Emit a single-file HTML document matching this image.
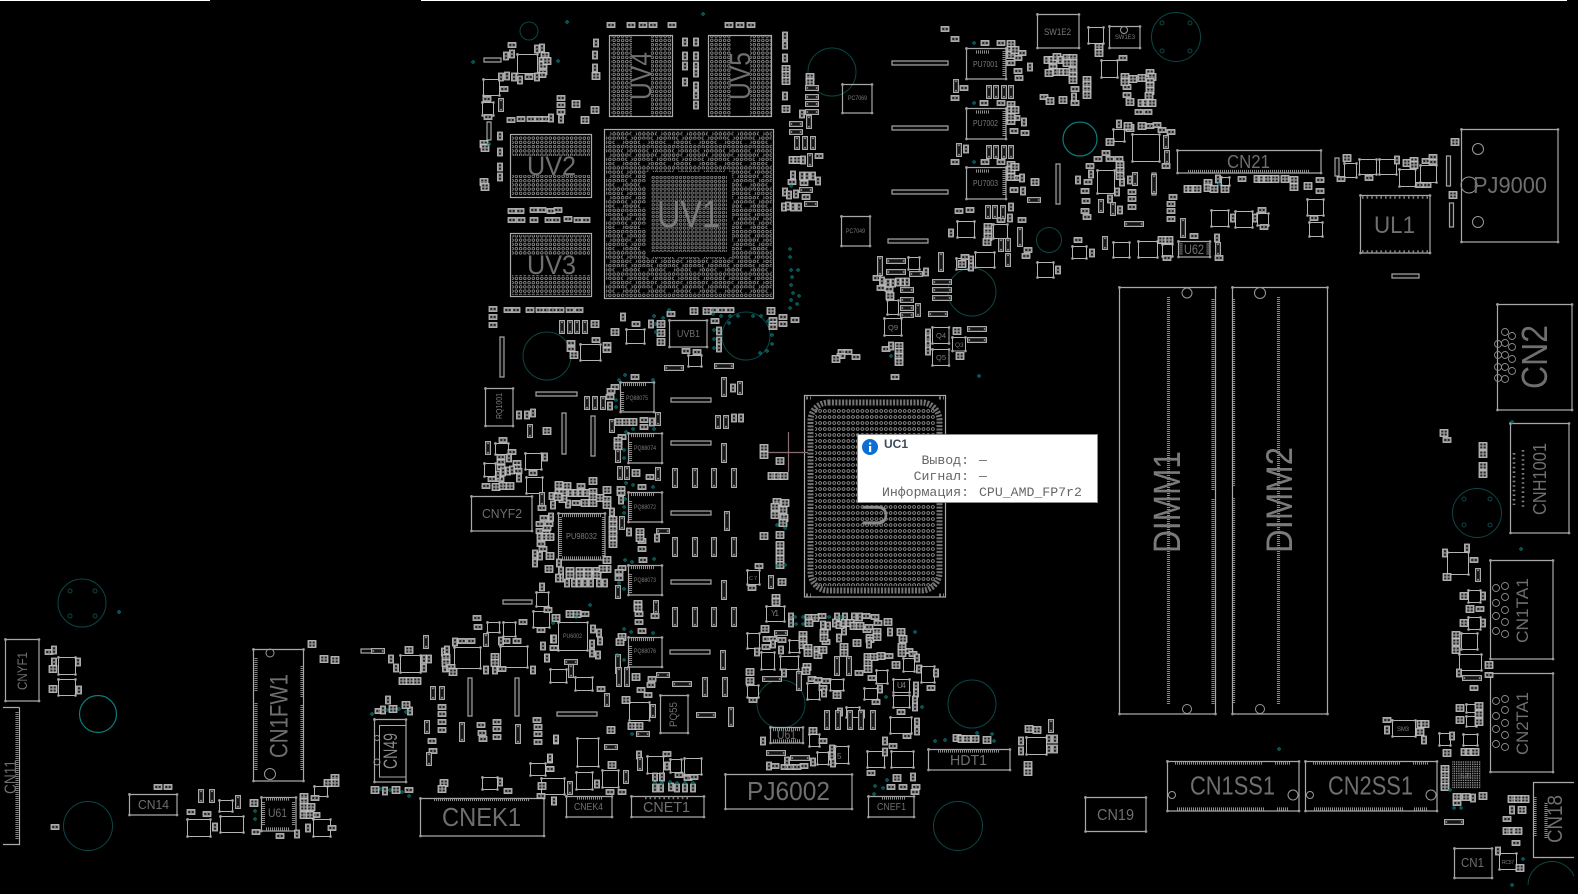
<!DOCTYPE html>
<html lang="ru"><head><meta charset="utf-8"><title>Boardview</title>
<style>
html,body{margin:0;padding:0;background:#000;overflow:hidden}
svg{display:block;position:absolute;left:0;top:0}
polyline{fill:none;stroke:none}
.h{marker:url(#h)}.v{marker:url(#v)}.q{marker:url(#q)}.m{marker:url(#m)}.w{marker:url(#w)}.n{marker:url(#n)}.x{marker:url(#x)}.t{marker:url(#t)}.g{marker:url(#g)}
.c{fill:none;stroke:#b4b4b4;stroke-width:1;marker:url(#s)}
.b{fill:none;stroke:#a8a8a8;stroke-width:1.2;marker:url(#s)}
.l{fill:#0c0c0c;stroke:#a4a4a4;stroke-width:1.2}
.p{fill:none;stroke:#9c9c9c;stroke-width:3.2;stroke-dasharray:.9 1.1}
.k{fill:none;stroke:#7c7c7c;stroke-width:2.6;stroke-dasharray:1.6 3}
.o{fill:none;stroke:#0c4646;stroke-width:1}
.r{fill:none;stroke:#0b7c7c;stroke-width:1.2}
.u{fill:none;stroke:#999;stroke-width:1}
text{font-family:"Liberation Sans",sans-serif}
.L{fill:#6f6f6f}
.S{fill:#7a7a7a}
.M{font-family:"Liberation Mono","DejaVu Sans Mono",monospace;font-size:13.2px;fill:#666}
</style></head><body>
<svg width="1578" height="894" viewBox="0 0 1578 894" xmlns="http://www.w3.org/2000/svg">
<defs>
<pattern id="d" width="4.25" height="4.25" patternUnits="userSpaceOnUse"><circle cx="2.1" cy="2.1" r="1.3" fill="none" stroke="#a0a0a0" stroke-width=".75"/></pattern>
<pattern id="d2" width="3.9" height="3.9" patternUnits="userSpaceOnUse"><circle cx="1.95" cy="1.95" r="1.2" fill="none" stroke="#8c8c8c" stroke-width=".8"/></pattern>
<pattern id="e" width="4.7" height="6" patternUnits="userSpaceOnUse"><circle cx="2.3" cy="3" r="1.4" fill="none" stroke="#a0a0a0" stroke-width=".8"/></pattern>
<pattern id="f" width="2.3" height="2.3" patternUnits="userSpaceOnUse"><rect width="1.4" height="1.4" fill="#8a8a8a"/></pattern>
<pattern id="z" x="606" y="131" width="25.5" height="21.25" patternUnits="userSpaceOnUse"><rect x="0" y="0" width="4.25" height="4.25"/><rect x="8.5" y="8.5" width="8.5" height="4.25"/><rect x="17" y="17" width="4.25" height="4.25"/><rect x="21.25" y="4.25" width="4.25" height="4.25"/></pattern>
<marker id="h" markerUnits="userSpaceOnUse" markerWidth="9" markerHeight="6" refX="4.5" refY="3"><rect x=".5" y=".5" width="8" height="5" fill="#8f8f8f" stroke="#c4c4c4" stroke-width=".8"/><rect x="1.8" y="2" width="2" height="2" fill="#222"/><rect x="5.2" y="2" width="2" height="2" fill="#222"/></marker>
<marker id="v" markerUnits="userSpaceOnUse" markerWidth="6" markerHeight="9" refX="3" refY="4.5"><rect x=".5" y=".5" width="5" height="8" fill="#8f8f8f" stroke="#c4c4c4" stroke-width=".8"/><rect x="2" y="1.8" width="2" height="2" fill="#222"/><rect x="2" y="5.2" width="2" height="2" fill="#222"/></marker>
<marker id="q" markerUnits="userSpaceOnUse" markerWidth="9" markerHeight="8" refX="4.5" refY="4"><rect x=".5" y=".5" width="8" height="7" fill="#9a9a9a" stroke="#c8c8c8" stroke-width=".8"/><rect x="1.8" y="1.6" width="2" height="1.8" fill="#222"/><rect x="5.2" y="1.6" width="2" height="1.8" fill="#222"/><rect x="1.8" y="4.6" width="2" height="1.8" fill="#222"/><rect x="5.2" y="4.6" width="2" height="1.8" fill="#222"/></marker>
<marker id="m" markerUnits="userSpaceOnUse" markerWidth="6" markerHeight="14" refX="3" refY="7"><rect x=".6" y=".6" width="4.8" height="12.8" fill="#151515" stroke="#aaa" stroke-width="1.2"/><circle cx="3" cy="2.4" r=".9" fill="#999"/><circle cx="3" cy="11.6" r=".9" fill="#999"/></marker>
<marker id="w" markerUnits="userSpaceOnUse" markerWidth="6" markerHeight="20" refX="3" refY="10"><rect x=".6" y=".6" width="4.8" height="18.8" fill="#151515" stroke="#aaa" stroke-width="1.2"/><circle cx="3" cy="2.4" r=".9" fill="#999"/><circle cx="3" cy="17.6" r=".9" fill="#999"/></marker>
<marker id="n" markerUnits="userSpaceOnUse" markerWidth="14" markerHeight="6" refX="7" refY="3"><rect x=".6" y=".6" width="12.8" height="4.8" fill="#151515" stroke="#aaa" stroke-width="1.2"/><circle cx="2.4" cy="3" r=".9" fill="#999"/><circle cx="11.6" cy="3" r=".9" fill="#999"/></marker>
<marker id="x" markerUnits="userSpaceOnUse" markerWidth="20" markerHeight="6" refX="10" refY="3"><rect x=".6" y=".6" width="18.8" height="4.8" fill="#151515" stroke="#aaa" stroke-width="1.2"/><circle cx="2.4" cy="3" r=".9" fill="#999"/><circle cx="17.6" cy="3" r=".9" fill="#999"/></marker>
<marker id="t" markerUnits="userSpaceOnUse" markerWidth="4" markerHeight="4" refX="2" refY="2"><circle cx="2" cy="2" r="1.2" fill="none" stroke="#0a8e8e" stroke-width=".9"/></marker>
<marker id="s" markerUnits="userSpaceOnUse" markerWidth="4" markerHeight="4" refX="2" refY="2"><circle cx="2" cy="2" r="1" fill="none" stroke="#999" stroke-width=".7"/></marker>
<marker id="g" markerUnits="userSpaceOnUse" markerWidth="9" markerHeight="9" refX="4.5" refY="4.5"><circle cx="4.5" cy="4.5" r="3.5" fill="none" stroke="#8c8c8c" stroke-width=".9"/></marker>
</defs>
<rect width="1578" height="894" fill="#000"/>
<path d="M0 .5H210M421 .5H1567" stroke="#fff" stroke-width="1"/>

<!-- mounting holes -->
<g class="o">
<circle cx="529" cy="31" r="9"/><circle cx="82" cy="603" r="24"/><circle cx="88" cy="826" r="24.5"/><circle cx="832" cy="72" r="24"/><circle cx="1176" cy="37" r="24.5"/><circle cx="1049" cy="240" r="12.5"/><circle cx="972" cy="292" r="24"/><circle cx="547" cy="356" r="24"/><circle cx="746" cy="336" r="24"/><circle cx="781" cy="704" r="24"/><circle cx="972" cy="704" r="24"/><circle cx="958" cy="826" r="24.5"/><circle cx="1477" cy="513" r="24.5"/><path d="M1528 885A24 24 0 0 1 1574 876"/>
<circle cx="70" cy="591" r="2"/><circle cx="95" cy="591" r="2"/><circle cx="70" cy="616" r="2"/><circle cx="95" cy="616" r="2"/>
<circle cx="1162" cy="23" r="2"/><circle cx="1190" cy="23" r="2"/><circle cx="1162" cy="51" r="2"/><circle cx="1190" cy="51" r="2"/>
<circle cx="1464" cy="499" r="2"/><circle cx="1490" cy="499" r="2"/><circle cx="1464" cy="525" r="2"/><circle cx="1490" cy="525" r="2"/>
</g>
<circle class="r" cx="98" cy="714" r="18.5"/><circle class="r" cx="1080" cy="139" r="17"/>

<!-- BGAs -->
<g stroke="#aaa" stroke-width="1.2" fill="none">
<rect x="604.5" y="129.5" width="169" height="169"/><rect x="609.5" y="35.5" width="63" height="81"/><rect x="708.5" y="35.5" width="63" height="81"/><rect x="510.5" y="134.5" width="81" height="63"/><rect x="510.5" y="233.5" width="81" height="63"/><rect x="804.5" y="395.5" width="141" height="201.5"/>
</g>
<rect x="606" y="131" width="166" height="166" fill="url(#d)"/><rect x="606" y="131" width="166" height="166" fill="url(#z)"/><rect x="646" y="172" width="86" height="85" fill="#000"/><rect x="651" y="176" width="76" height="76" fill="url(#d2)"/>
<g fill="url(#d)"><rect x="611" y="36" width="21" height="80"/><rect x="651" y="36" width="21" height="80"/><rect x="710" y="36" width="21" height="80"/><rect x="750" y="36" width="21" height="80"/><rect x="512" y="136" width="78" height="20"/><rect x="512" y="175" width="78" height="21"/><rect x="512" y="235" width="78" height="20"/><rect x="512" y="275" width="78" height="20"/></g>
<rect x="815" y="408" width="120" height="178" fill="url(#e)"/>
<rect x="810.5" y="402.5" width="129" height="188" rx="18" fill="none" stroke="#747474" stroke-width="6" stroke-dasharray="2 1.4"/>
<path d="M806 398h5M806 595h5M939 398h5M939 595h5" stroke="#777" stroke-width="3" stroke-dasharray="2 2"/>
<rect x="1452" y="761" width="29" height="28" fill="url(#f)"/>

<!-- big outlines -->
<path class="b" d="M1119.500 287.500h96v426.500h-96zM1232.500 287.500h95v426.500h-95zM1497.500 304.500h74.500v105.500h-74.500zM1510.500 423.500h58.500v109.500h-58.500zM1490.500 560.500h62.500v98.500h-62.500zM1490.500 673.500h62.500v98.500h-62.500zM1454.500 848.500h37.500v29.500h-37.500zM1167.500 761.500h131.500v49.500h-131.500zM1305.500 761.500h131.500v49.500h-131.500zM1085.500 797.500h60.500v34h-60.500zM5.500 639.500h33.500v61.500h-33.500zM129.500 794.500h47.500v20.500h-47.500zM253.500 649.500h50v131.500h-50zM261.500 797.500h34.500v33.500h-34.500zM374.500 719.500h31.500v62.500h-31.500zM420.500 798.500h123.500v37.500h-123.500zM566.500 796.500h45.500v20.500h-45.500zM631.500 796.500h72.500v20.500h-72.500zM725.500 774.500h126.500v34.500h-126.500zM868.500 796.500h45.500v20.500h-45.500zM928.500 749.500h81.500v20.500h-81.500zM770.500 727.500h32.500v15.500h-32.500zM660.500 695.500h27.500v37.500h-27.500zM620.500 382.500h33.500v29.500h-33.500zM628.500 433.500h33.500v29.500h-33.500zM628.500 492.500h33.500v29.500h-33.500zM628.500 565.500h33.500v29.500h-33.500zM628.500 637.500h33.500v29.500h-33.500zM558.500 513.500h46.500v46.500h-46.500zM471.500 496.500h60.500v34.500h-60.500zM669.500 320.500h37.500v26.500h-37.500zM485.500 388.500h27.500v37.500h-27.500zM1037.500 14.500h41.500v33.500h-41.500zM1109.500 26.500h30.500v21.500h-30.500zM966.500 48.500h39.500v30.500h-39.500zM966.500 108.500h39.500v30.500h-39.500zM966.500 167.500h39.500v31.500h-39.500zM842.500 84.500h29.500v28.500h-29.500zM841.500 216.500h28.500v29.500h-28.500zM1177.500 150.500h143.500v22.500h-143.500zM1178.500 241.500h31.500v15.500h-31.500zM1461.500 129.500h96.500v112.500h-96.500zM1360.500 195.500h69.500v57.500h-69.500z"/>
<path d="M19.500 707.500H3M19.500 707.500V844.500H3" fill="none" stroke="#aaa" stroke-width="1.2"/>
<path d="M1574 782.500H1533.500V857.500H1574" fill="none" stroke="#aaa" stroke-width="1.2"/>
<rect x="379.500" y="725.500" width="26.500" height="51.500" fill="none" stroke="#aaa"/>

<!-- pins -->
<path class="p" d="M1168.500 297V704M1213 299V490M1213 499V704M1233.500 299V487M1233.500 498V704M1278.500 297V704M1188 171.500H1309M1175 763H1263M1275 763H1290M1177 809H1264M1277 809H1289M1313 763H1401M1413 763H1428M1314 809H1403M1414 809H1427M1535 797V837M1546 803V839M434 799.500H530M17 712V840M256 658V691M256 703V770M302 666V697M302 705V770M938 751H999M577 798H602M882 798H906M266 799H290M266 829H290M263.500 802V826M293.500 802V826M1181 243.500V255M1208 243.500V255M773 729.500H800M773 741H800M562 515.500H601M562 558H601M560.500 517V556M603.500 517V556M976 52H990M976 112H990M976 171H990M1004 51V76M1004 111V136M1004 170V196M623 384.500H646M631 435.500H654M631 494.500H654M631 567.500H654M631 639.500H654M622.500 392V411M630.500 442V462M630.500 501V521M630.500 574V594M630.500 646V666"/>
<path class="k" d="M1362 197.500H1429M1362 251.500H1429M1514 453V505M1523 450V507M645 798H690"/>
<polyline class="g" points="1498,344 1498,355 1498,367 1498,378 1505,332 1505,343 1505,355 1505,367 1505,379 1512,336 1512,347 1512,359 1512,371 1496,588 1496,603 1496,616 1496,631 1505,586 1505,597 1505,610 1505,622 1505,634 1496,701 1496,716 1496,729 1496,744 1505,699 1505,710 1505,723 1505,735 1505,747"/>

<!-- round holes -->
<g class="u">
<circle cx="1187" cy="293" r="5"/><circle cx="1187" cy="709" r="4.5"/><circle cx="1260" cy="293" r="5.500"/><circle cx="1260" cy="709" r="4.500"/><circle cx="270" cy="653" r="4"/><circle cx="270" cy="774" r="5.500"/><circle cx="1478" cy="149" r="5.500"/><circle cx="1469" cy="185" r="8"/><circle cx="1478" cy="222" r="5.500"/><circle cx="1172" cy="795" r="3.500"/><circle cx="1293" cy="795" r="5"/><circle cx="1310" cy="795" r="3.500"/><circle cx="1431" cy="795" r="5"/><circle cx="1124" cy="30" r="3.500"/><circle cx="377" cy="738" r="2.500"/><circle cx="377" cy="762" r="3"/>
</g>

<!-- small packages -->
<path class="c" d="M517.500 54.500h20v19h-20zM483.500 79.500h16v16h-16zM482.500 102.500h11v13h-11zM580.500 344.500h20v16h-20zM626.500 329.500h18v14h-18zM688.500 355.500h13v11h-13zM495.500 443.500h13v11h-13zM525.500 453.500h16v16h-16zM484.500 463.500h11v13h-11zM526.500 477.500h16v16h-16zM747.500 570.500h12v14h-12zM536.500 592.500h12v14h-12zM558.500 622.500h29v28h-29zM550.500 669.500h16v13h-16zM575.500 677.500h17v13h-17zM577.500 738.500h21v28h-21zM576.500 772.500h16v17h-16zM602.500 770.500h16v17h-16zM541.500 778.500h23v16h-23zM629.500 702.500h20v18h-20zM747.500 633.500h12v15h-12zM761.500 652.500h13v17h-13zM780.500 656.500h18v13h-18zM789.500 640.500h10v12h-10zM766.500 606.500h18v15h-18zM747.500 685.500h11v12h-11zM807.500 683.500h12v16h-12zM830.500 679.500h13v11h-13zM876.500 670.500h11v13h-11zM864.500 688.500h13v11h-13zM893.500 679.500h16v13h-16zM893.500 695.500h16v12h-16zM846.500 707.500h13v10h-13zM809.500 734.500h10v12h-10zM835.500 746.500h13v17h-13zM817.500 752.500h11v12h-11zM903.500 658.500h11v13h-11zM921.500 666.500h13v16h-13zM890.500 717.500h21v16h-21zM867.500 751.500h17v16h-17zM891.500 751.500h22v16h-22zM1026.500 737.500h20v17h-20zM647.500 756.500h16v17h-16zM670.500 759.500h11v13h-11zM684.500 758.500h17v16h-17zM58.500 657.500h17v17h-17zM58.500 679.500h17v16h-17zM219.500 800.500h13v11h-13zM187.500 819.500h23v17h-23zM220.500 816.500h23v16h-23zM314.500 786.500h13v10h-13zM313.500 819.500h17v17h-17zM400.500 655.500h20v17h-20zM454.500 647.500h26v21h-26zM487.500 622.500h12v10h-12zM503.500 622.500h12v14h-12zM533.500 611.500h16v16h-16zM500.500 646.500h27v21h-27zM482.500 777.500h15v12h-15zM530.500 763.500h15v12h-15zM1088.500 27.500h15v16h-15zM1101.500 60.500h16v17h-16zM957.500 221.500h17v16h-17zM993.500 224.500h14v14h-14zM975.500 252.500h19v15h-19zM956.500 258.500h12v11h-12zM1037.500 262.500h16v15h-16zM908.500 257.500h11v12h-11zM1132.500 134.500h27v27h-27zM1113.500 129.500h11v12h-11zM1097.500 170.500h17v23h-17zM1072.500 246.500h14v12h-14zM1113.500 242.500h16v15h-16zM1138.500 241.500h19v16h-19zM1162.500 244.500h10v12h-10zM1221.500 177.500h8v8h-8zM1211.500 210.500h17v16h-17zM1235.500 211.500h17v16h-17zM1257.500 213.500h11v12h-11zM1344.500 163.500h12v14h-12zM1359.500 159.500h17v15h-17zM1379.500 159.500h17v15h-17zM1399.500 169.500h16v17h-16zM1420.500 165.500h16v17h-16zM1307.500 199.500h16v16h-16zM1309.500 222.500h13v14h-13zM1447.500 552.500h21v22h-21zM1468.500 590.500h12v12h-12zM1468.500 617.500h12v12h-12zM1461.500 633.500h16v16h-16zM1459.500 654.500h22v16h-22zM1466.500 704.500h10v8h-10zM1466.500 716.500h10v10h-10zM1392.500 720.500h23v16h-23zM1439.500 733.500h11v12h-11zM1463.500 734.500h14v11h-14zM1499.500 853.500h17v16h-17zM884.500 318.500h17v17h-17zM932.500 327.500h16.500v16h-16.500zM932.500 349.500h16.500v16h-16.500zM952.500 337.500h13v13.500h-13zM887.500 300.500h11v14h-11z"/>

<!-- long parts -->
<path class="l" d="M892 61h56v4h-56zM892 126h56v4h-56zM892 190h56v4h-56zM888 239h40v4h-40zM536 392h41v4h-41zM671 398h40v4h-40zM671 441h40v4h-40zM671 511h40v4h-40zM671 580h40v4h-40zM670 650h40v4h-40zM503 600h29v4h-29zM557 712h40v4h-40zM562 413h4v41h-4zM591 416h4v40h-4zM500 337h4v40h-4zM468 678h4v38h-4zM515 678h4v38h-4zM1056 164h4v40h-4zM1152 173h4v22h-4zM1392 274h27v4h-27zM487 122h4v18h-4zM484 58h17v4h-17zM1446.500 156h4v30h-4zM1449.500 203h4v24h-4zM1335 158h4v18h-4zM361 649h17v4h-17z"/>

<polyline class="h" points="611,25 631,25 643,25 653,25 672,25 729,25 740,25 751,25 561,98 561,105 561,112 511,120 521,119 531,119 539,119 546,119 512,45 504,89 487,99 488,117 529,77 543,72 542,75 512,211 520,211 534,210 542,210 551,211 558,210 512,220 521,220 534,220 549,220 556,220 568,219 578,220 586,220 819,156 792,182 804,183 806,197 493,309 493,317 493,325 508,310 516,310 530,310 540,310 547,310 553,310 560,310 570,310 579,310 571,343 571,349 596,340 607,345 607,350 636,324 671,314 713,310 722,310 730,310 715,321 686,351 697,352 783,317 783,324 773,320 773,324 773,327 795,320 635,377 615,387 611,391 610,397 644,420 644,427 622,437 650,477 642,487 621,489 621,493 642,541 642,549 643,560 622,568 619,572 619,578 759,566 752,588 503,440 501,457 512,452 501,462 501,467 517,463 517,467 518,471 533,473 492,479 500,479 486,486 581,486 576,503 542,508 544,518 540,524 540,531 549,524 547,528 546,533 541,544 543,549 601,689 548,610 585,614 639,614 639,622 655,616 642,631 652,679 651,685 648,695 641,690 610,792 622,792 550,769 554,648 767,639 773,639 782,640 766,647 822,616 866,616 875,617 867,630 878,623 869,627 826,642 870,637 870,640 909,651 913,654 889,656 859,673 812,679 818,680 826,681 823,688 753,700 872,678 876,702 901,712 931,688 823,741 804,766 785,767 791,767 797,767 775,766 907,736 893,746 871,773 891,787 903,787 916,787 915,792 667,754 679,775 688,778 694,777 49,652 158,787 168,787 191,812 207,814 256,832 280,836 55,827 315,798 316,815 332,828 379,711 409,790 462,641 471,641 477,618 478,627 523,622 506,641 517,641 541,630 554,648 502,669 442,707 442,714 442,722 442,730 481,725 482,733 483,739 497,722 497,729 497,737 537,720 538,727 538,734 538,742 432,741 433,751 508,791 550,769 541,796 945,29 955,39 985,43 1001,43 1022,53 1018,58 1011,63 1018,71 1019,78 964,88 955,98 984,103 1001,103 1016,118 1011,122 1014,131 1025,133 955,162 985,162 1001,162 1017,178 1014,190 959,211 970,210 1001,220 1022,220 1028,250 1026,256 965,257 877,278 881,288 889,289 886,349 895,377 842,352 848,352 841,356 856,357 1123,58 1075,89 1075,103 1044,97 1127,87 1127,95 1139,112 1148,112 1150,126 1157,125 1162,130 1171,132 1166,166 1106,153 1098,159 1110,159 1119,159 1090,166 1088,182 1085,191 1086,201 1085,211 1087,217 1132,192 1132,199 1132,207 1173,197 1171,204 1171,211 1171,219 1194,236 1078,240 1167,258 1219,258 1242,179 1262,210 1264,227 1320,180 1320,191 1314,218 1341,179 1369,178 1426,161 1433,157 1433,162 1420,185 1427,185 1447,440 1474,560 1480,609 1489,675 1474,688 1387,720 1457,803 1507,819 1516,843"/>
<polyline class="v" points="596,43 595,55 595,68 685,42 696,42 685,56 696,56 685,66 696,66 696,73 685,82 696,86 696,95 696,105 785,36 785,45 785,58 785,96 551,118 561,119 506,56 512,54 537,49 542,48 537,77 520,80 514,77 507,76 501,77 500,136 500,152 500,167 500,177 623,317 651,324 719,331 719,341 719,348 519,415 527,415 533,413 652,422 610,406 733,388 734,418 741,418 509,458 545,457 519,478 498,475 503,472 508,471 512,470 568,504 553,505 551,517 535,554 540,556 535,563 559,563 561,571 561,578 558,578 567,583 574,583 579,583 585,583 591,583 599,583 605,583 612,512 542,587 621,500 629,532 657,538 556,740 597,784 554,801 550,759 593,629 599,633 600,641 592,644 592,653 598,655 553,639 543,646 547,658 757,652 773,644 781,650 791,617 791,623 823,625 828,626 837,617 845,617 854,617 860,617 835,623 839,638 844,631 890,632 869,644 917,658 919,669 784,673 936,673 824,693 880,689 840,712 862,714 763,741 916,686 916,693 915,700 915,707 885,741 885,752 832,749 832,756 833,763 813,762 787,761 769,766 917,722 917,731 913,777 1021,741 1021,751 1049,739 1049,749 1055,739 1055,749 639,755 667,766 655,777 662,777 655,788 661,788 671,787 677,788 685,788 693,788 54,650 54,662 78,662 79,690 215,827 297,834 308,828 388,700 383,710 410,711 385,791 391,659 396,668 424,659 429,659 424,668 444,652 447,650 455,642 501,641 547,658 554,639 486,670 495,670 533,670 445,668 500,782 550,758 554,801 556,739 1030,67 1024,122 1022,178 1023,191 1011,207 1010,218 951,233 966,149 1092,253 971,260 971,267 1058,270 926,272 1091,174 1078,180 1122,182 1117,192 1110,199 1120,210 1130,180 1119,124 1218,179 1233,218 1255,218 1217,238 1397,160 1074,97 1445,553 1467,548 1459,673 1483,596 1483,623 1387,730 1424,740 1452,736 1473,798 1512,810 1498,851 802,114 803,160 793,175 802,176 807,176 813,176 818,181 785,192 789,195 796,194 784,207 788,206 793,207 799,207 882,281 888,283 893,283 898,282 903,282 907,282 928,333 928,339 928,345 928,351 891,346"/>
<polyline class="q" points="596,76 786,69 786,75 786,81 786,109 595,110 576,104 585,120 545,56 543,61 543,65 547,61 484,144 485,148 484,182 485,187 810,77 810,82 793,160 797,160 595,324 661,324 661,333 661,342 615,332 694,311 707,311 574,355 771,311 547,431 619,422 626,422 633,422 618,441 618,446 636,473 640,532 640,538 764,448 764,455 780,461 772,476 778,476 784,476 777,502 785,503 783,510 775,507 775,515 784,518 783,523 764,536 780,535 780,545 780,552 780,559 780,565 782,582 496,487 503,486 510,486 559,485 567,486 559,493 563,493 563,499 553,496 558,497 572,493 577,493 582,493 587,493 593,481 593,492 593,497 593,503 585,503 607,490 600,498 607,500 607,505 541,537 546,537 550,537 550,556 549,569 570,571 580,571 588,571 597,571 570,575 580,575 588,575 597,575 607,560 607,569 603,569 613,520 613,525 613,530 613,535 613,540 613,544 556,618 570,614 577,614 638,604 638,608 622,637 620,642 636,677 626,700 632,726 639,726 611,730 612,765 765,629 803,635 803,640 803,645 808,648 808,653 818,650 818,655 823,650 776,598 776,602 809,618 815,618 809,623 840,625 845,623 850,623 854,626 860,626 888,622 824,633 824,638 844,647 844,653 857,643 877,632 877,637 901,632 903,639 902,647 902,653 868,657 868,663 868,669 874,657 881,656 896,665 807,667 806,671 750,672 750,681 837,695 813,731 897,778 957,738 962,739 967,739 975,739 987,740 1029,729 1037,730 1028,765 1028,772 53,669 53,689 312,644 324,659 335,660 254,803 304,797 304,802 304,807 311,807 304,815 310,815 335,778 335,783 328,783 393,709 406,705 375,790 396,790 409,650 403,681 410,681 417,681 446,658 446,663 495,657 495,663 451,668 453,672 444,783 442,789 542,786 1011,44 1011,50 1011,55 1015,50 1011,105 1011,110 1015,110 1011,117 1011,165 1011,170 1015,167 1011,177 1035,182 988,227 988,232 988,237 987,242 890,296 957,331 960,356 899,346 899,352 899,357 899,362 836,359 962,264 1099,47 1099,53 1048,60 1053,60 1057,57 1062,60 1067,58 1073,58 1073,63 1067,63 1053,68 1053,72 1049,73 1057,72 1063,72 1067,72 1073,71 1073,76 1073,80 1087,80 1087,85 1087,90 1087,95 1050,101 1063,100 1125,77 1125,82 1133,79 1142,78 1150,73 1152,77 1150,82 1150,86 1150,91 1149,96 1142,103 1147,103 1152,103 1130,102 1142,126 1130,128 1128,126 1110,142 1120,165 1120,171 1120,176 1162,240 1169,240 1208,183 1208,188 1214,189 1188,189 1192,189 1197,189 1225,189 1258,179 1263,179 1268,179 1275,179 1285,179 1294,180 1294,187 1308,186 1347,158 1407,163 1414,161 1414,165 1455,142 1453,195 1444,433 1483,446 1483,454 1483,466 1483,474 1447,577 1464,596 1470,609 1464,623 1456,635 1456,642 1456,650 1489,665 1460,708 1479,706 1479,714 1460,720 1479,722 1421,724 1425,724 1420,732 1447,753 1465,752 1470,752 1475,752 1445,769 1445,775 1445,781 1445,787 1457,797 1466,797 1483,796 1512,799 1518,799 1525,799 1522,810 1507,831 1513,831 1518,831 1520,868"/>
<polyline class="m" points="501,105 562,327 570,327 577,327 585,327 587,403 595,403 603,403 530,431 612,426 658,419 740,388 718,422 726,422 618,456 620,473 627,473 658,474 622,523 771,582 618,592 488,448 542,499 656,607 571,671 607,700 626,777 570,788 653,711 640,764 433,693 442,693 426,642 429,759 427,727 201,796 212,796 238,802 1478,575 1105,243 1218,249 1051,726 1101,206 1113,209 1166,142 1167,157 1135,179 989,92 996,92 1004,92 1011,92 989,152 996,152 1004,152 1011,152 959,150 956,86 988,212 995,212 1003,212 1001,245 1008,245 1008,260 486,640 809,122 797,143 805,143 813,143 810,160 918,310"/>
<polyline class="w" points="724,387 724,453 727,521 724,590 675,478 695,478 714,478 734,478 675,547 695,547 714,547 734,547 675,617 695,617 714,617 734,617 723,660 705,687 725,687 731,717 618,664 619,677 627,677 837,666 849,666 799,681 827,720 838,720 850,720 861,720 873,720 462,732 518,734 1020,237 880,266 941,262 1183,228 1154,184"/>
<polyline class="n" points="663,531 663,675 643,734 611,747 571,662 781,633 1034,200 378,651 812,88 812,97 812,104 812,112 796,124 796,132 806,190 811,204 916,274 907,290 907,300 907,308 907,315"/>
<polyline class="x" points="674,368 724,366 682,684 706,715 772,679 776,753 800,758 1134,224 1454,822 1472,678 896,261 896,272 942,282 942,290 942,298 938,314 977,329 977,340"/>
<polyline class="t" points="473,62 558,61 703,14 489,144 567,22 790,249 790,257 791,270 798,270 792,277 791,285 793,293 799,296 791,300 797,304 790,308 625,375 619,380 653,380 654,316 663,318 669,310 655,324 656,332 713,314 721,316 730,316 738,316 753,316 761,316 729,323 714,330 714,339 714,348 768,321 772,335 772,344 767,351 760,353 590,605 553,623 576,617 624,629 631,632 653,633 617,655 624,660 632,734 795,617 803,617 796,624 803,624 829,617 841,617 915,632 886,697 922,707 935,741 945,740 977,733 992,734 994,741 887,780 875,786 883,788 874,794 626,432 633,429 654,429 624,450 624,458 616,400 616,407 626,483 633,485 653,487 625,499 624,513 624,507 625,560 632,562 654,559 619,583 624,589 777,525 785,528 777,566 785,565 655,783 662,783 670,782 677,783 685,783 693,783 372,714 387,710 399,709 406,712 381,789 390,790 402,792 409,796 255,811 255,819 119,612 974,43 974,103 974,162 1219,184 1512,422 1521,549 1279,749 1450,790 1454,808 1461,808 1523,859 1512,885 979,376 791,186 891,356"/>

<!-- labels -->
<g class="L">
<text x="657" y="227" font-size="38" textLength="63" lengthAdjust="spacingAndGlyphs" fill="#7a7a7a">UV1</text>
<text x="527" y="175" font-size="27" textLength="49" lengthAdjust="spacingAndGlyphs">UV2</text>
<text x="527" y="274" font-size="27" textLength="49" lengthAdjust="spacingAndGlyphs">UV3</text>
<text transform="translate(651,100) rotate(-90)" font-size="29" textLength="48" lengthAdjust="spacingAndGlyphs">UV4</text>
<text transform="translate(750,100) rotate(-90)" font-size="29" textLength="48" lengthAdjust="spacingAndGlyphs">UV5</text>
<text transform="translate(887,527) rotate(-90)" font-size="35" textLength="66" lengthAdjust="spacingAndGlyphs" fill="#8a8a8a">UC1</text>
<text x="1473" y="193" font-size="23" textLength="74" lengthAdjust="spacingAndGlyphs">PJ9000</text>
<text x="1374" y="233" font-size="24" textLength="41" lengthAdjust="spacingAndGlyphs">UL1</text>
<text x="1227" y="168" font-size="18" textLength="43" lengthAdjust="spacingAndGlyphs">CN21</text>
<text x="1184" y="254" font-size="14" textLength="20" lengthAdjust="spacingAndGlyphs">U62</text>
<text transform="translate(1547,389) rotate(-90)" font-size="36" textLength="64" lengthAdjust="spacingAndGlyphs">CN2</text>
<text transform="translate(1546,515) rotate(-90)" font-size="18" textLength="72" lengthAdjust="spacingAndGlyphs">CNH1001</text>
<text transform="translate(1528,643) rotate(-90)" font-size="17" textLength="65" lengthAdjust="spacingAndGlyphs">CN1TA1</text>
<text transform="translate(1528,755) rotate(-90)" font-size="17" textLength="63" lengthAdjust="spacingAndGlyphs">CN2TA1</text>
<text transform="translate(1562,843) rotate(-90)" font-size="21" textLength="48" lengthAdjust="spacingAndGlyphs">CN18</text>
<text x="1461" y="867" font-size="13" textLength="23" lengthAdjust="spacingAndGlyphs">CN1</text>
<text x="1190" y="794.500" font-size="26" textLength="85" lengthAdjust="spacingAndGlyphs">CN1SS1</text>
<text x="1328" y="794.500" font-size="26" textLength="85" lengthAdjust="spacingAndGlyphs">CN2SS1</text>
<text x="1097" y="820" font-size="16" textLength="37" lengthAdjust="spacingAndGlyphs">CN19</text>
<text transform="translate(1180,553) rotate(-90)" font-size="38" textLength="102" lengthAdjust="spacingAndGlyphs" fill="#7a7a7a">DIMM1</text>
<text transform="translate(1292,553) rotate(-90)" font-size="37" textLength="106" lengthAdjust="spacingAndGlyphs" fill="#7a7a7a">DIMM2</text>
<text transform="translate(27,690) rotate(-90)" font-size="14" textLength="38" lengthAdjust="spacingAndGlyphs">CNYF1</text>
<text transform="translate(16,794) rotate(-90)" font-size="17" textLength="34" lengthAdjust="spacingAndGlyphs">CN11</text>
<text x="138" y="809" font-size="13" textLength="31" lengthAdjust="spacingAndGlyphs">CN14</text>
<text transform="translate(287.500,758) rotate(-90)" font-size="25" textLength="84" lengthAdjust="spacingAndGlyphs">CN1FW1</text>
<text x="268" y="817" font-size="12" textLength="19" lengthAdjust="spacingAndGlyphs">U61</text>
<text transform="translate(397,769) rotate(-90)" font-size="19" textLength="36" lengthAdjust="spacingAndGlyphs" fill="#8a8a8a">CN49</text>
<text x="442" y="826" font-size="26" textLength="79" lengthAdjust="spacingAndGlyphs">CNEK1</text>
<text x="574" y="810" font-size="10.500" textLength="29" lengthAdjust="spacingAndGlyphs">CNEK4</text>
<text x="643" y="812" font-size="15" textLength="47" lengthAdjust="spacingAndGlyphs">CNET1</text>
<text x="747" y="800" font-size="26" textLength="83" lengthAdjust="spacingAndGlyphs">PJ6002</text>
<text x="877" y="810" font-size="10.500" textLength="29" lengthAdjust="spacingAndGlyphs">CNEF1</text>
<text x="950" y="765" font-size="15" textLength="37" lengthAdjust="spacingAndGlyphs">HDT1</text>
<text x="777" y="739" font-size="13" textLength="19" lengthAdjust="spacingAndGlyphs">U61</text>
<text transform="translate(677,727) rotate(-90)" font-size="11" textLength="25" lengthAdjust="spacingAndGlyphs">PQ55</text>
<text x="482" y="518" font-size="13" textLength="40" lengthAdjust="spacingAndGlyphs">CNYF2</text>
<text x="677" y="337" font-size="10" textLength="23" lengthAdjust="spacingAndGlyphs">UVB1</text>
</g>
<g class="S">
<text x="566" y="539" font-size="8.500" textLength="31" lengthAdjust="spacingAndGlyphs">PU98032</text>
<text x="626" y="400" font-size="6.500" textLength="22" lengthAdjust="spacingAndGlyphs">PQ88075</text>
<text x="634" y="450" font-size="6.500" textLength="22" lengthAdjust="spacingAndGlyphs">PQ88074</text>
<text x="634" y="509" font-size="6.500" textLength="22" lengthAdjust="spacingAndGlyphs">PQ88072</text>
<text x="634" y="582" font-size="6.500" textLength="22" lengthAdjust="spacingAndGlyphs">PQ88073</text>
<text x="634" y="653" font-size="6.500" textLength="22" lengthAdjust="spacingAndGlyphs">PQ88076</text>
<text x="563" y="638" font-size="6.500" textLength="19" lengthAdjust="spacingAndGlyphs">PU6002</text>
<text transform="translate(502,419) rotate(-90)" font-size="8" textLength="26" lengthAdjust="spacingAndGlyphs">RQ1001</text>
<text x="973" y="67" font-size="8.500" textLength="25" lengthAdjust="spacingAndGlyphs">PU7001</text>
<text x="973" y="126" font-size="8.500" textLength="25" lengthAdjust="spacingAndGlyphs">PU7002</text>
<text x="973" y="186" font-size="8.500" textLength="25" lengthAdjust="spacingAndGlyphs">PU7003</text>
<text x="848" y="100" font-size="6.500" textLength="19" lengthAdjust="spacingAndGlyphs">PC7069</text>
<text x="846" y="233" font-size="6.500" textLength="19" lengthAdjust="spacingAndGlyphs">PC7049</text>
<text x="1044" y="35" font-size="9" textLength="27" lengthAdjust="spacingAndGlyphs">SW1E2</text>
<text x="1115" y="39" font-size="6" textLength="20" lengthAdjust="spacingAndGlyphs">SW1E3</text>
<text x="771" y="616" font-size="8" textLength="8">Y1</text>
<text x="897" y="688" font-size="8" textLength="9">U4</text>
<text x="837" y="759" font-size="8">5</text>
<text x="749" y="580" font-size="5.500" textLength="8">C7</text>
<text x="1460" y="778" font-size="7" textLength="12">SJ1</text>
<text x="1397" y="731" font-size="6" textLength="12">SM3</text>
<text x="1502" y="864" font-size="5" textLength="12">RC57</text>
<text x="888" y="330" font-size="7.500">Q9</text>
<text x="936" y="338" font-size="7.500">Q4</text>
<text x="936" y="360" font-size="7.500">Q5</text>
<text x="955" y="347" font-size="6.500">Q3</text>
</g>

<!-- crosshair -->
<path d="M788.500 432V472M768 452.500H808" stroke="#8a6b70" stroke-width="1.200" fill="none"/>

<!-- tooltip -->
<rect x="857.500" y="434.500" width="240" height="68" fill="#fff" stroke="#8c8c8c" stroke-width="1"/>
<circle cx="870" cy="447" r="8" fill="#0a6fd2"/>
<rect x="869" y="446" width="2.200" height="6" fill="#fff"/><rect x="869" y="442.500" width="2.200" height="2" fill="#fff"/>
<text x="884" y="448" font-size="12" font-weight="bold" fill="#3b4a5a">UC1</text>
<text class="M" x="969" y="464" text-anchor="end">Вывод:</text><text class="M" x="979" y="464">—</text>
<text class="M" x="969" y="480" text-anchor="end">Сигнал:</text><text class="M" x="979" y="480">—</text>
<text class="M" x="969" y="496" text-anchor="end">Информация:</text><text class="M" x="979" y="496">CPU_AMD_FP7r2</text>
</svg>
</body></html>
